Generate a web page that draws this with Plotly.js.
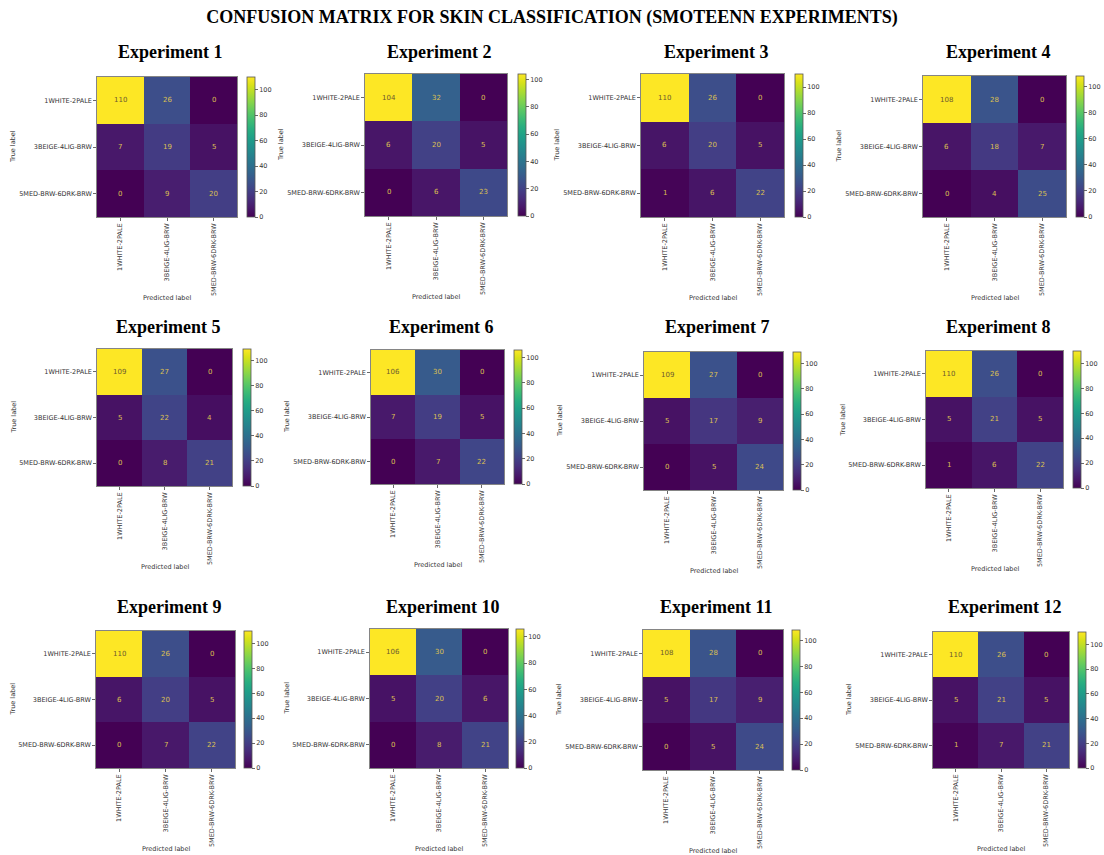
<!DOCTYPE html>
<html>
<head>
<meta charset="utf-8">
<script src="https://cdn.plot.ly/plotly-3.0.1.min.js"></script>
<style>
html,body{margin:0;padding:0;background:#fff;}
#chart{width:1104px;height:855px;}
</style>
</head>
<body>
<div id="chart"></div>
<script>
// ---- DATA ----
const classLabels = ["1WHITE-2PALE", "3BEIGE-4LIG-BRW", "5MED-BRW-6DRK-BRW"];
const experimentNames = ["Experiment 1","Experiment 2","Experiment 3","Experiment 4",
  "Experiment 5","Experiment 6","Experiment 7","Experiment 8",
  "Experiment 9","Experiment 10","Experiment 11","Experiment 12"];
const exp1  = [[110,26,0],[7,19,5],[0,9,20]];
const exp2  = [[104,32,0],[6,20,5],[0,6,23]];
const exp3  = [[110,26,0],[6,20,5],[1,6,22]];
const exp4  = [[108,28,0],[6,18,7],[0,4,25]];
const exp5  = [[109,27,0],[5,22,4],[0,8,21]];
const exp6  = [[106,30,0],[7,19,5],[0,7,22]];
const exp7  = [[109,27,0],[5,17,9],[0,5,24]];
const exp8  = [[110,26,0],[5,21,5],[1,6,22]];
const exp9  = [[110,26,0],[6,20,5],[0,7,22]];
const exp10 = [[106,30,0],[5,20,6],[0,8,21]];
const exp11 = [[108,28,0],[5,17,9],[0,5,24]];
const exp12 = [[110,26,0],[5,21,5],[1,7,21]];
const matrices = [exp1,exp2,exp3,exp4,exp5,exp6,exp7,exp8,exp9,exp10,exp11,exp12];
const colorbarTicks = [0,20,40,60,80,100];
const mainTitle = "CONFUSION MATRIX FOR SKIN CLASSIFICATION (SMOTEENN EXPERIMENTS)";
const xAxisTitle = "Predicted label";
const yAxisTitle = "True label";

// ---- LAYOUT GEOMETRY (pixels) ----
const W = 1104, H = 855;
// heatmap box: [left, right, top, bottom], colorbar left
const boxes = [
  [97,237,77,217,247],[365,507,74,216,518],[641,784,74,217,795],[923,1066,76,217,1076],
  [97,232,349,486,243],[371,504,350,484,514],[644,783,352,490,793],[926,1063,351,488,1073],
  [96,235,631,768,244],[370,508,629,768,516],[643,783,630,770,792],[933,1069,632,768,1078]
];
const titleY = [52,52,52,52,327,327,327,327,607,607,607,607];

const tickFont = {family:"DejaVu Sans", size:6.5, color:"#333"};
const traces = [];
const layout = {
  width:W, height:H, margin:{l:0,r:0,t:0,b:0},
  paper_bgcolor:"#fff", plot_bgcolor:"#fff",
  showlegend:false, annotations:[],
  title:{text:"<b>"+mainTitle+"</b>", x:0.5, xanchor:"center", y:1-17/H, yanchor:"middle",
    font:{family:"Liberation Serif", size:18, color:"#000"}}
};

matrices.forEach((m, i) => {
  const k = i + 1;
  const [l, r, t, b, cb] = boxes[i];
  const xa = "x" + k, ya = "y" + k;
  const zmax = Math.max(...m.flat());
  const zmin = Math.min(...m.flat());
  traces.push({
    type:"heatmap", z:m, x:classLabels, y:classLabels,
    xaxis:xa, yaxis:ya, colorscale:"Viridis", zmin:zmin, zmax:zmax,
    xgap:0, ygap:0, hoverinfo:"z",
    colorbar:{
      x:cb/W, xanchor:"left", xpad:0, y:1-b/H, yanchor:"bottom", ypad:0,
      len:(b-t)/H, lenmode:"fraction", thickness:8, thicknessmode:"pixels",
      outlinewidth:0.8, outlinecolor:"#555",
      tickvals:colorbarTicks, ticks:"outside", ticklen:3, tickwidth:0.8, tickcolor:"#444",
      tickfont:tickFont
    }
  });
  const axBase = {
    showline:true, mirror:true, linecolor:"#666", linewidth:0.8,
    ticks:"outside", ticklen:3, tickwidth:0.8, tickcolor:"#444",
    showgrid:false, zeroline:false, tickfont:tickFont, fixedrange:true
  };
  layout["xaxis"+(k===1?"":k)] = Object.assign({}, axBase, {
    domain:[l/W, r/W], anchor:ya, tickangle:-90, type:"category"
  });
  layout["yaxis"+(k===1?"":k)] = Object.assign({}, axBase, {
    domain:[1-b/H, 1-t/H], anchor:xa, autorange:"reversed", type:"category"
  });
  // cell values
  m.forEach((row, ri) => row.forEach((v, ci) => {
    const bright = v > (zmin + zmax) / 2;
    layout.annotations.push({
      xref:xa, yref:ya, x:classLabels[ci], y:classLabels[ri], text:String(v),
      showarrow:false, font:{family:"DejaVu Sans", size:7,
        color: bright ? "#6e5a2e" : "#dcc052"}
    });
  }));
  // panel title
  layout.annotations.push({
    xref:"paper", yref:"paper", x:((l+r)/2+3)/W, y:1-titleY[i]/H,
    xanchor:"center", yanchor:"middle", showarrow:false,
    text:"<b>"+experimentNames[i]+"</b>",
    font:{family:"Liberation Serif", size:18, color:"#000"}
  });
  // axis labels
  layout.annotations.push({
    xref:"paper", yref:"paper", x:((l+r)/2)/W, y:1-(b+81)/H,
    xanchor:"center", yanchor:"middle", showarrow:false, text:xAxisTitle,
    font:{family:"DejaVu Sans", size:6.5, color:"#333"}
  });
  layout.annotations.push({
    xref:"paper", yref:"paper", x:(l-84)/W, y:1-((t+b)/2)/H,
    xanchor:"center", yanchor:"middle", showarrow:false, text:yAxisTitle, textangle:-90,
    font:{family:"DejaVu Sans", size:6.5, color:"#333"}
  });
});

Plotly.newPlot("chart", traces, layout, {displayModeBar:false, staticPlot:true});
</script>
</body>
</html>
